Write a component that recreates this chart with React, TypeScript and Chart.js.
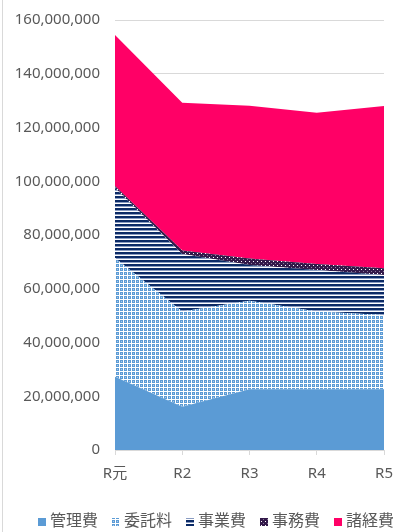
import React, { useEffect, useRef } from "react";
import { Chart, registerables } from "chart.js";

Chart.register(...registerables);

const categories = ["R元", "R2", "R3", "R4", "R5"];
const seriesNames = ["管理費", "委託料", "事業費", "事務費", "諸経費"];
const kanri = [27300000, 16100000, 22600000, 22600000, 22600000];
const itaku = [44100000, 35400000, 32900000, 28900000, 27600000];
const jigyo = [26100000, 21400000, 13300000, 15500000, 14900000];
const jimu = [700000, 1300000, 2500000, 2200000, 2500000];
const shokeihi = [56200000, 55000000, 56800000, 56300000, 60400000];
const yMax = 160000000;
const yStep = 20000000;

const FONT = '"Noto Sans", "Noto Sans CJK JP", sans-serif';
const TEXT = "#595959";
const GRID = "#d9d9d9";

function makePattern(w: number, h: number, draw: (c: CanvasRenderingContext2D) => void) {
  const cv = document.createElement("canvas");
  cv.width = w;
  cv.height = h;
  const c = cv.getContext("2d")!;
  draw(c);
  return c.createPattern(cv, "repeat")!;
}

function px(c: CanvasRenderingContext2D, color: string, x: number, y: number, w = 1, h = 1) {
  c.fillStyle = color;
  c.fillRect(x, y, w, h);
}

export default function App() {
  const ref = useRef<HTMLCanvasElement>(null);

  useEffect(() => {
    if (!ref.current) return;
    const blue = "#5B9BD5";
    const itakuPat = makePattern(4, 4, (c) => {
      px(c, blue, 0, 0, 4, 4);
      px(c, "#ffffff", 3, 0, 1, 4);
      px(c, "#ffffff", 0, 3, 4, 1);
      px(c, "#a9c8ea", 1, 1);
    });
    const jigyoPat = makePattern(4, 4, (c) => {
      px(c, "#ffffff", 0, 0, 4, 4);
      px(c, "#0b2a66", 0, 0, 4, 2);
      px(c, "#8a9cc2", 0, 2, 4, 1);
    });
    const jimuPat = makePattern(4, 4, (c) => {
      px(c, "#33194a", 0, 0, 4, 4);
      px(c, "#ffffff", 1, 1);
      px(c, "#8b7a9a", 3, 3);
    });
    const colors: any[] = [blue, itakuPat, jigyoPat, jimuPat, "#FF0066"];
    const values = [kanri, itaku, jigyo, jimu, shokeihi];

    const legendPlugin = {
      id: "customLegend",
      afterDraw(chart: any) {
        const ctx = chart.ctx as CanvasRenderingContext2D;
        ctx.save();
        ctx.font = `16px ${FONT}`;
        ctx.textBaseline = "middle";
        const y = chart.height - 11;
        let x = 38;
        chart.data.datasets.forEach((ds: any) => {
          ctx.fillStyle = ds.backgroundColor;
          ctx.fillRect(x, y - 3, 8, 8);
          ctx.fillStyle = TEXT;
          ctx.fillText(ds.label, x + 12, y);
          x += 12 + ctx.measureText(ds.label).width + 14;
        });
        ctx.restore();
      },
    };

    const chart = new Chart(ref.current, {
      type: "line",
      data: {
        labels: categories,
        datasets: seriesNames.map((name, i) => ({
          label: name,
          data: values[i],
          backgroundColor: colors[i],
          borderWidth: 0,
          borderColor: "transparent",
          pointRadius: 0,
          pointHoverRadius: 0,
          tension: 0,
          fill: i === 0 ? "origin" : "-1",
        })),
      },
      options: {
        animation: false,
        responsive: false,
        devicePixelRatio: 1,
        layout: { padding: { left: 0, right: 9, top: 20, bottom: 50 } },
        plugins: {
          legend: { display: false },
          tooltip: { enabled: false },
        },
        scales: {
          x: {
            offset: false,
            grid: {
              display: true,
              drawOnChartArea: false,
              drawTicks: true,
              tickLength: 5,
              color: GRID,
            },
            border: { display: true, color: GRID },
            ticks: { color: TEXT, font: { family: FONT, size: 15 }, padding: 10, maxRotation: 0 },
            afterFit: (s: any) => {
              s.height = 32;
              s.paddingLeft = 0;
              s.paddingRight = 0;
            },
          },
          y: {
            stacked: true,
            min: 0,
            max: yMax,
            grid: { color: GRID, drawTicks: false },
            border: { display: false },
            ticks: {
              stepSize: yStep,
              color: TEXT,
              padding: 15,
              font: { family: FONT, size: 15 },
              callback: (v: any) => Number(v).toLocaleString("en-US"),
            },
            afterFit: (s: any) => {
              s.width = 115;
              s.paddingTop = 0;
              s.paddingBottom = 0;
            },
          },
        },
      },
      plugins: [legendPlugin],
    });
    return () => chart.destroy();
  }, []);

  return (
    <div style={{ position: "absolute", left: 0, top: 0, width: 393, height: 532, background: "#fff" }}>
      <div style={{ position: "absolute", left: 2, top: 0, width: 0, height: 532, borderLeft: `1px solid ${GRID}` }} />
      <canvas ref={ref} width={393} height={532} style={{ position: "absolute", left: 0, top: 0 }} />
    </div>
  );
}
